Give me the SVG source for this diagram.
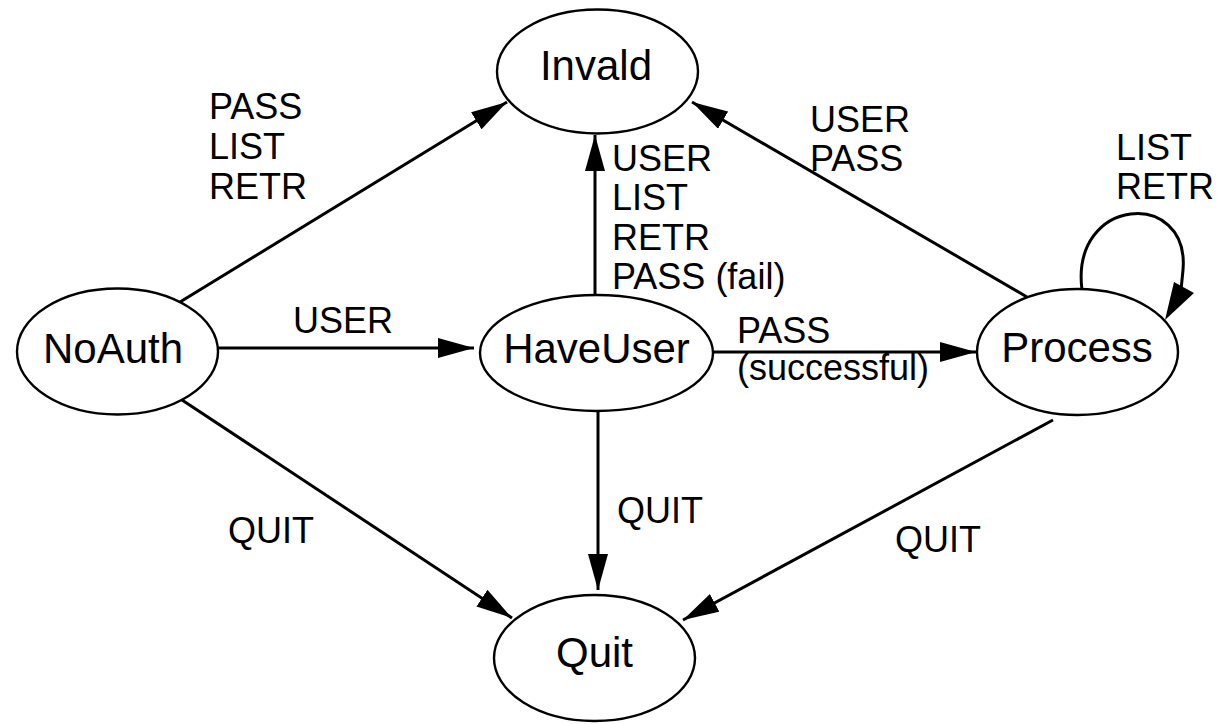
<svg xmlns="http://www.w3.org/2000/svg" width="1224" height="724" viewBox="0 0 1224 724">
<style>
.node ellipse { fill: #ffffff; stroke: #000000; stroke-width: 2.4; }
.node text { font-family: "Liberation Sans", Arial, sans-serif; font-size: 42px; text-anchor: middle; fill: #000000; }
.edge { fill: none; stroke: #000000; stroke-width: 3; }
.lbl { font-family: "Liberation Sans", Arial, sans-serif; font-size: 36px; fill: #000000; }
</style>
<defs>
<marker id="ah" markerUnits="userSpaceOnUse" markerWidth="37" markerHeight="20" refX="36" refY="10" orient="auto" viewBox="0 0 37 20">
<path d="M0,0 L36,10 L0,20 z" fill="#000000"/>
</marker>
</defs>
<rect x="0" y="0" width="1224" height="724" fill="#ffffff"/>
<g id="connectors">
<line class="edge" x1="180" y1="302" x2="507" y2="102" marker-end="url(#ah)"/>
<line class="edge" x1="217" y1="348" x2="474" y2="348" marker-end="url(#ah)"/>
<line class="edge" x1="595" y1="295" x2="595" y2="135" marker-end="url(#ah)"/>
<line class="edge" x1="713" y1="352" x2="976" y2="352" marker-end="url(#ah)"/>
<line class="edge" x1="1027" y1="297" x2="692" y2="102" marker-end="url(#ah)"/>
<line class="edge" x1="182" y1="400" x2="512" y2="618" marker-end="url(#ah)"/>
<line class="edge" x1="598" y1="412" x2="598" y2="590" marker-end="url(#ah)"/>
<line class="edge" x1="1053" y1="420" x2="683" y2="620" marker-end="url(#ah)"/>
<path class="edge" d="M1082,290 C1070,196 1190,188 1183,270 L1181,290"/>
<polygon points="1165,320 1174,282 1194,293" fill="#000000"/>
<text class="lbl" x="209" y="119">PASS</text>
<text class="lbl" x="209" y="159">LIST</text>
<text class="lbl" x="209" y="199">RETR</text>
<text class="lbl" x="612" y="171">USER</text>
<text class="lbl" x="612" y="210">LIST</text>
<text class="lbl" x="612" y="250">RETR</text>
<text class="lbl" x="612" y="289">PASS (fail)</text>
<text class="lbl" x="810" y="132">USER</text>
<text class="lbl" x="810" y="171">PASS</text>
<text class="lbl" x="1116" y="160">LIST</text>
<text class="lbl" x="1116" y="199">RETR</text>
<text class="lbl" x="293" y="333">USER</text>
<text class="lbl" x="737" y="343">PASS</text>
<text class="lbl" x="737" y="380">(successful)</text>
<text class="lbl" x="228" y="543">QUIT</text>
<text class="lbl" x="617" y="523">QUIT</text>
<text class="lbl" x="895" y="552">QUIT</text>
</g>
<g id="node-invald" class="node">
<ellipse cx="597.5" cy="71.5" rx="100.5" ry="62"/>
<text x="596" y="80">Invald</text>
</g>
<g id="node-noauth" class="node">
<ellipse cx="117.5" cy="351.5" rx="100.5" ry="63"/>
<text x="113" y="363">NoAuth</text>
</g>
<g id="node-haveuser" class="node">
<ellipse cx="596.5" cy="353" rx="116.5" ry="58"/>
<text x="596.5" y="363">HaveUser</text>
</g>
<g id="node-process" class="node">
<ellipse cx="1077.5" cy="352" rx="100.5" ry="63"/>
<text x="1077" y="362">Process</text>
</g>
<g id="node-quit" class="node">
<ellipse cx="594.5" cy="658" rx="100.5" ry="63"/>
<text x="594.5" y="667">Quit</text>
</g>
</svg>
